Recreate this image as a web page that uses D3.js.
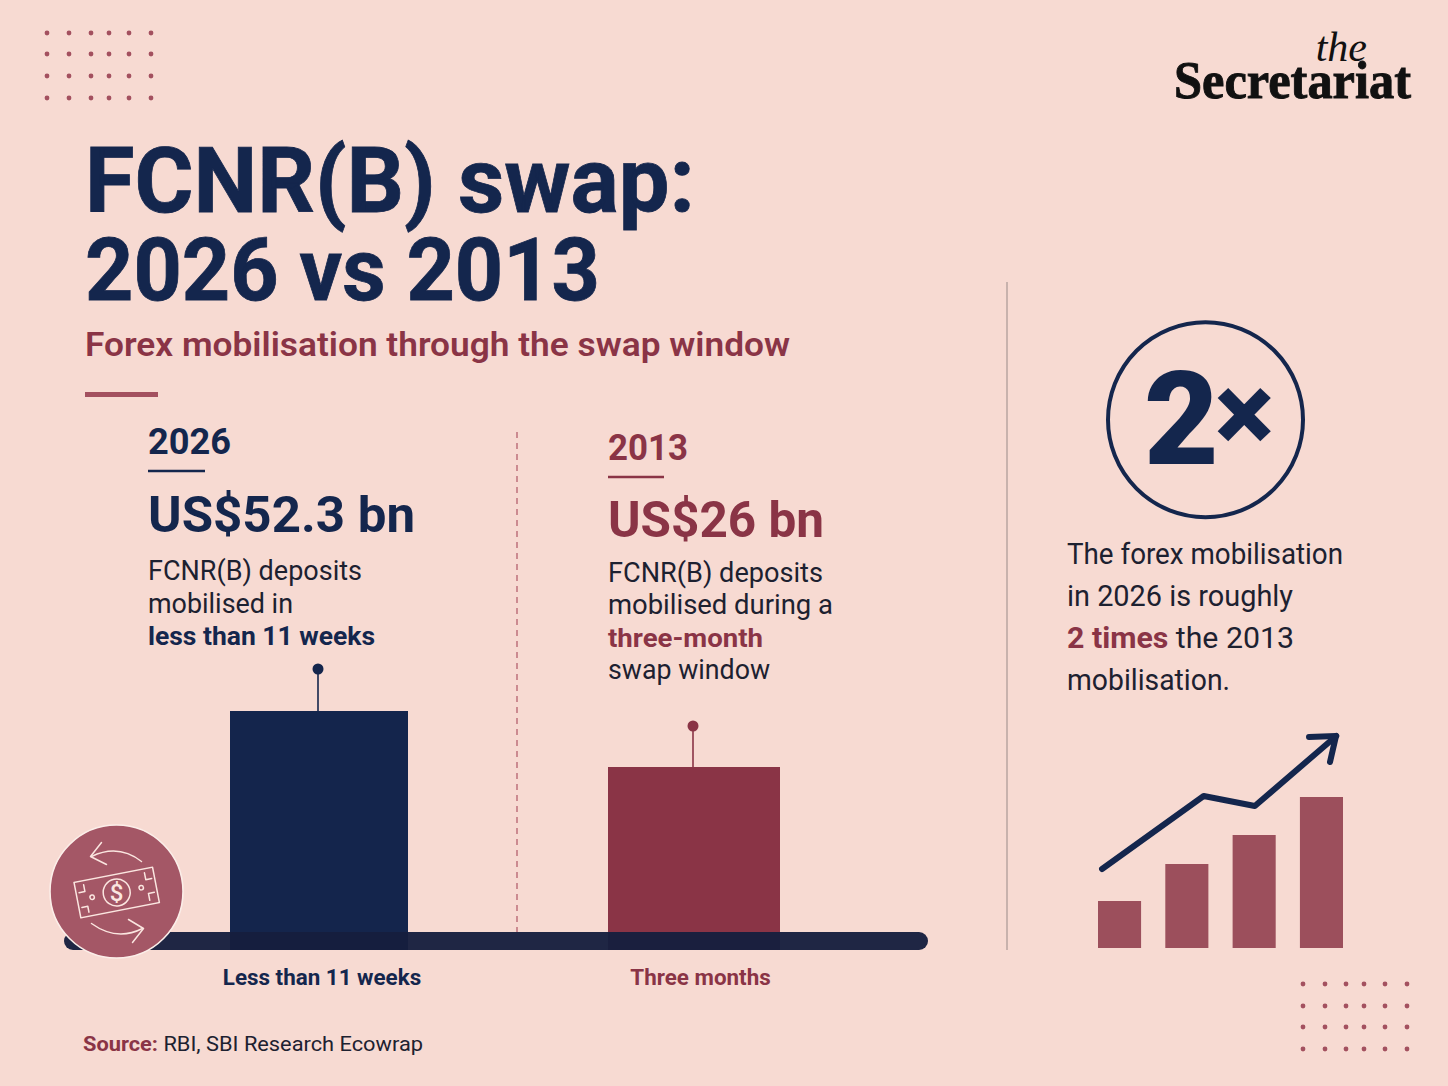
<!DOCTYPE html>
<html>
<head>
<meta charset="utf-8">
<script src="https://cdn.jsdelivr.net/npm/d3@7"></script>
<style>
  html, body { margin: 0; padding: 0; background: #f7dad2; }
  svg { display: block; }
  text { font-family: Roboto, "Noto Sans", sans-serif; }
</style>
</head>
<body>
<svg id="chart" width="1448" height="1086"></svg>
<script>
// data
const periods = ["Less than 11 weeks", "Three months"];
const years = ["2026", "2013"];
const deposits = [52.3, 26];
const amountLabels = ["US$52.3 bn", "US$26 bn"];
// little icon bottom right, heights
const iconBars = [47, 84, 113, 151];
const iconLineX = [-0.26, 1.25, 2.01, 3.22];
const iconLineY = [79, 152, 142, 212];

const navy = "#14264d", maroon = "#8a3446", rose = "#9c4f5c", ink = "#1d2130";

const svg = d3.select("#chart");
svg.append("rect").attr("width", 1448).attr("height", 1086).attr("fill", "#f7dad2");

// bars in the picture are not drawn to scale, hence the piecewise y
const x = d3.scalePoint().domain(periods).range([319, 694]);
const y = d3.scaleLinear().domain([0, 26, 52.3]).range([950, 767, 711]);
const barWidth = d3.scaleOrdinal().domain(periods).range([178, 172]);
const barColor = d3.scaleOrdinal().domain(periods).range(["#14254c", "#8a3446"]);

function label(sel, px, py, size, weight, fill, parts, fit) {
  const t = sel.append("text").attr("x", px).attr("y", py)
    .attr("font-size", size).attr("font-weight", weight).attr("fill", fill);
  (Array.isArray(parts) ? parts : [parts]).forEach(p => {
    if (typeof p === "string") t.append("tspan").text(p);
    else t.append("tspan").attr("font-weight", p.weight).attr("fill", p.fill).text(p.text);
  });
  if (fit) t.attr("textLength", fit).attr("lengthAdjust", "spacingAndGlyphs");
  return t;
}

// dot grids in the corners
function dots(xs, ys) {
  const g = svg.append("g").attr("fill", "#a3505f");
  ys.forEach(cy => xs.forEach(cx => g.append("circle").attr("cx", cx).attr("cy", cy).attr("r", 2.4)));
}
dots([47, 69, 91, 109, 129, 151], [33, 54, 76, 98]);
dots([1303, 1325, 1346, 1364, 1385, 1407], [984, 1006, 1027, 1049]);

// logo
label(svg, 1367, 61, 42, 400, "#111", "the").attr("text-anchor", "end")
  .style("font-family", "'Liberation Serif', serif").style("font-style", "italic");
label(svg, 1174, 98, 53, 700, "#111", "Secretariat", 237)
  .style("font-family", "'Liberation Serif', serif")
  .attr("stroke", "#111").attr("stroke-width", 0.9);

// headline
label(svg, 85, 212, 91, 700, navy, "FCNR(B) swap:", 610).attr("stroke", navy).attr("stroke-width", 0.8);
label(svg, 85, 300, 87, 700, navy, "2026 vs 2013", 515).attr("stroke", navy).attr("stroke-width", 0.8);
label(svg, 85, 356, 34, 600, maroon, "Forex mobilisation through the swap window", 705);
svg.append("rect").attr("x", 85).attr("y", 392).attr("width", 73).attr("height", 5).attr("fill", "#a3505f");

// dashed divider and right panel rule
svg.append("line").attr("x1", 517).attr("x2", 517).attr("y1", 432).attr("y2", 932)
  .attr("stroke", "#b5616e").attr("stroke-width", 1.3).attr("stroke-dasharray", "6 5");
svg.append("line").attr("x1", 1007).attr("x2", 1007).attr("y1", 282).attr("y2", 950)
  .attr("stroke", "#b8a5a0").attr("stroke-width", 1.5);

// 2026 block
label(svg, 148, 454, 36, 700, navy, years[0], 83);
svg.append("line").attr("x1", 148).attr("x2", 205).attr("y1", 471).attr("y2", 471).attr("stroke", navy).attr("stroke-width", 2.5);
label(svg, 148, 532, 50, 700, navy, amountLabels[0], 267);
label(svg, 148, 580, 27, 400, ink, "FCNR(B) deposits", 214);
label(svg, 148, 613, 27, 400, ink, "mobilised in", 145);
label(svg, 148, 645, 26, 700, navy, "less than 11 weeks", 227);

// 2013 block
label(svg, 608, 460, 36, 700, maroon, years[1], 80);
svg.append("line").attr("x1", 608).attr("x2", 664).attr("y1", 477).attr("y2", 477).attr("stroke", maroon).attr("stroke-width", 2.5);
label(svg, 608, 537, 50, 700, maroon, amountLabels[1], 216);
label(svg, 608, 582, 27, 400, ink, "FCNR(B) deposits", 215);
label(svg, 608, 614, 27, 400, ink, "mobilised during a", 225);
label(svg, 608, 647, 26, 700, maroon, "three-month", 155);
label(svg, 608, 679, 27, 400, ink, "swap window", 162);

// bars
svg.append("g").selectAll("rect").data(periods).enter().append("rect")
  .attr("x", d => x(d) - barWidth(d) / 2)
  .attr("y", (d, i) => y(deposits[i]))
  .attr("width", d => barWidth(d))
  .attr("height", (d, i) => y(0) - y(deposits[i]))
  .attr("fill", d => barColor(d));

// stems with a dot
const stemLength = [42, 41];
const stems = svg.append("g").selectAll("g").data(periods).enter().append("g");
stems.append("line")
  .attr("x1", d => x(d) - 1).attr("x2", d => x(d) - 1)
  .attr("y1", (d, i) => y(deposits[i]))
  .attr("y2", (d, i) => y(deposits[i]) - stemLength[i])
  .attr("stroke", d => barColor(d)).attr("stroke-width", 1.6);
stems.append("circle")
  .attr("cx", d => x(d) - 1)
  .attr("cy", (d, i) => y(deposits[i]) - stemLength[i])
  .attr("r", 5.5).attr("fill", d => barColor(d));

// baseline
svg.append("rect").attr("x", 64).attr("y", 932).attr("width", 864).attr("height", 18).attr("rx", 9)
  .attr("fill", "#161e3d").attr("fill-opacity", 0.96);

// category axis
const axisG = svg.append("g").attr("transform", "translate(0,950)")
  .call(d3.axisBottom(x).tickSize(0));
axisG.select(".domain").remove();
axisG.selectAll("text")
  .attr("y", 35).attr("dy", 0)
  .attr("dx", (d, i) => [2.5, 6][i])
  .attr("font-size", 22.4).attr("font-weight", 700)
  .style("font-family", "Roboto, sans-serif")
  .attr("fill", (d, i) => [navy, maroon][i]);

// money swap badge
const badge = svg.append("g").attr("transform", "translate(116.5,891.5)");
badge.append("circle").attr("r", 66.5).attr("fill", "#a45766").attr("stroke", "#fbeee9").attr("stroke-width", 1.6);
const glyph = badge.append("g").attr("fill", "none").attr("stroke", "#fbe6e0").attr("stroke-width", 1.5)
  .attr("stroke-linejoin", "round").attr("stroke-linecap", "round");
glyph.append("path").attr("d", "M25,-30 Q2,-48 -25,-35");
glyph.append("path").attr("d", "M-15,-49 L-26,-35 L-10,-27");
glyph.append("path").attr("d", "M-25,32 Q0,50 26,37");
glyph.append("path").attr("d", "M12,28 L27,37 L16,51");
const bill = glyph.append("g").attr("transform", "rotate(-11)");
bill.append("rect").attr("x", -40).attr("y", -17).attr("width", 80).attr("height", 36);
bill.append("circle").attr("cx", 0).attr("cy", 1).attr("r", 13.5);
bill.append("path").attr("d", "M-37,-6 L-31,-6 L-31,-13 M37,8 L31,8 L31,15 M-37,9 L-31,9 L-31,15 M37,-6 L31,-6 L31,-13");
bill.append("circle").attr("cx", -25).attr("cy", 1).attr("r", 2.2);
bill.append("circle").attr("cx", 25).attr("cy", 1).attr("r", 2.2);
label(badge, 0, 9, 24, 500, "#fbe6e0", "$").attr("text-anchor", "middle");

// 2x
svg.append("circle").attr("cx", 1205.5).attr("cy", 419.7).attr("r", 97.5)
  .attr("fill", "none").attr("stroke", navy).attr("stroke-width", 4);
const twoX = label(svg, 1144, 464, 129, 900, navy, "2");
twoX.append("tspan").attr("font-size", 112).attr("dy", -12).attr("dx", -4).text("×");

// right text
label(svg, 1067, 564, 29, 400, ink, "The forex mobilisation", 276);
label(svg, 1067, 606, 29, 400, ink, "in 2026 is roughly", 226);
label(svg, 1067, 648, 29, 400, ink, [{text: "2 times", weight: 700, fill: maroon}, " the 2013"], 227);
label(svg, 1067, 690, 29, 400, ink, "mobilisation.", 163);

// mini bar icon
const ix = d3.scaleBand().domain(d3.range(iconBars.length)).range([1098, 1343]).paddingInner(0.36);
const iy = d3.scaleLinear().domain([0, 151]).range([948, 797]);
svg.append("g").selectAll("rect").data(iconBars).enter().append("rect")
  .attr("x", (d, i) => ix(i)).attr("y", d => iy(d))
  .attr("width", ix.bandwidth()).attr("height", d => iy(0) - iy(d))
  .attr("fill", rose);

const lx = d3.scaleLinear().domain([0, 3]).range([ix(0) + ix.bandwidth() / 2, ix(3) + ix.bandwidth() / 2]);
const trend = d3.line().x(d => lx(d[0])).y(d => iy(d[1]));
svg.append("path").datum(d3.zip(iconLineX, iconLineY)).attr("d", trend)
  .attr("fill", "none").attr("stroke", navy).attr("stroke-width", 6)
  .attr("stroke-linecap", "round").attr("stroke-linejoin", "round");
svg.append("path").attr("d", "M1309,737 L1336,736 L1330,762")
  .attr("fill", "none").attr("stroke", navy).attr("stroke-width", 6)
  .attr("stroke-linecap", "round").attr("stroke-linejoin", "round");

// source
label(svg, 83, 1051, 21, 400, ink, [{text: "Source:", weight: 700, fill: maroon}, " RBI, SBI Research Ecowrap"], 340);
</script>
</body>
</html>
